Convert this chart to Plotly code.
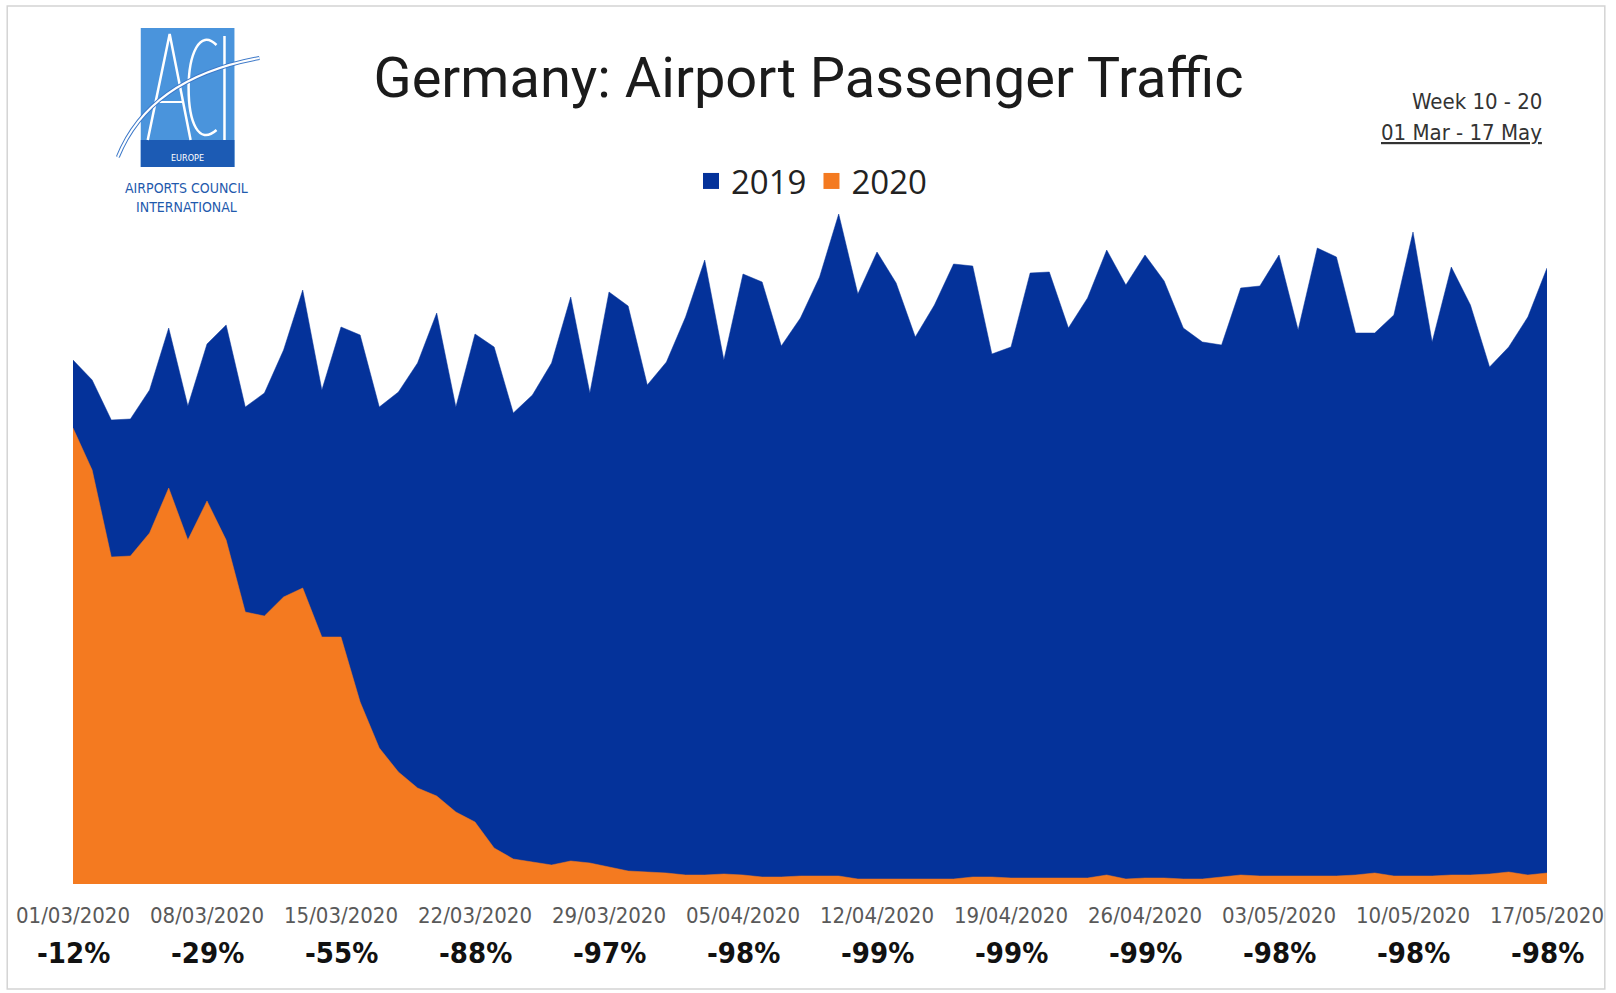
import plotly.graph_objects as go
import pandas as pd

# ---------------- data ----------------
start_date = "2020-03-01"
end_date = "2020-05-17"
dates = pd.date_range(start_date, end_date, freq="D")

# daily passengers (thousands)
pax_2019 = [524, 504, 464, 465, 494, 556, 478, 540, 559, 477,
            491, 534, 594, 494, 557, 549, 477, 492, 521, 571,
            477, 550, 537, 471, 489, 521, 587, 491, 592, 578,
            499, 522, 567, 624, 524, 610, 602, 538, 566, 607,
            670, 590, 632, 601, 547, 579, 620, 618, 530, 537,
            611, 612, 556, 586, 634, 599, 629, 603, 556, 542,
            539, 596, 598, 629, 554, 636, 627, 551, 551, 569,
            652, 542, 617, 579, 517, 537, 567, 616]

pax_2020 = [456, 414, 327, 328, 351, 396, 344, 383, 344, 272,
            268, 287, 296, 247, 247, 182, 136, 112, 96, 88,
            72, 62, 36, 25, 22, 19, 23, 21, 17, 13,
            12, 11, 9, 9, 10, 9, 7, 7, 8, 8,
            8, 5, 5, 5, 5, 5, 5, 7, 7, 6,
            6, 6, 6, 6, 9, 5, 6, 6, 5, 5,
            7, 9, 8, 8, 8, 8, 8, 9, 11, 8,
            8, 8, 9, 9, 10, 12, 9, 11]

tick_dates = ["2020-03-01", "2020-03-08", "2020-03-15", "2020-03-22",
              "2020-03-29", "2020-04-05", "2020-04-12", "2020-04-19",
              "2020-04-26", "2020-05-03", "2020-05-10", "2020-05-17"]
tick_labels = ["01/03/2020", "08/03/2020", "15/03/2020", "22/03/2020",
               "29/03/2020", "05/04/2020", "12/04/2020", "19/04/2020",
               "26/04/2020", "03/05/2020", "10/05/2020", "17/05/2020"]
week_change = ["-12%", "-29%", "-55%", "-88%", "-97%", "-98%",
               "-99%", "-99%", "-99%", "-98%", "-98%", "-98%"]

series_names = ["2019", "2020"]
title_text = "Germany: Airport Passenger Traffic"
period_week = "Week 10 - 20"
period_dates = "01 Mar - 17 May"

# ---------------- style ----------------
BLUE = "#04329a"
ORANGE = "#f47a20"
W, H = 1616, 993
L, R, T, B = 73, 1552, 200, 884
Y_MAX = 684

NARROW = "Liberation Sans Narrow, DejaVu Sans Condensed, Open Sans, sans-serif"


def px(xp):
    return (xp - L) / (R - L)


def py(yp):
    return (B - yp) / (B - T)


fig = go.Figure()
fig.add_trace(go.Scatter(x=dates, y=pax_2019, name=series_names[0], mode="lines",
                         fill="tozeroy", fillcolor=BLUE,
                         line=dict(color=BLUE, width=0.5), showlegend=False))
fig.add_trace(go.Scatter(x=dates, y=pax_2020, name=series_names[1], mode="lines",
                         fill="tozeroy", fillcolor=ORANGE,
                         line=dict(color=ORANGE, width=0.5), showlegend=False))
# legend entries
for nm, col in zip(series_names, [BLUE, ORANGE]):
    fig.add_trace(go.Scatter(x=[None], y=[None], mode="markers", name=nm,
                             marker=dict(symbol="square", size=24, color=col)))

annotations = []
for td, wc in zip(tick_dates, week_change):
    annotations.append(dict(x=td, xref="x", y=py(953), yref="paper",
                            text="<b>" + wc + "</b>", showarrow=False,
                            xanchor="center", yanchor="middle",
                            font=dict(family=NARROW, size=29, color="#111111")))

annotations.append(dict(x=px(1549), xref="paper", y=py(102), yref="paper",
                        text=period_week, showarrow=False, xanchor="right",
                        yanchor="middle",
                        font=dict(family=NARROW, size=22, color="#333333")))
annotations.append(dict(x=px(1549), xref="paper", y=py(132), yref="paper",
                        text="<u>" + period_dates + "</u>", showarrow=False,
                        xanchor="right", yanchor="middle",
                        font=dict(family=NARROW, size=22, color="#333333")))

# ---- logo (decoration) ----
LOGO_BLUE = "#1f5aad"
annotations.append(dict(x=px(188), xref="paper", y=py(158), yref="paper",
                        text="EUROPE", showarrow=False, xanchor="center",
                        yanchor="middle",
                        font=dict(family=NARROW, size=9, color="white")))
annotations.append(dict(x=px(187), xref="paper", y=py(188), yref="paper",
                        text="AIRPORTS COUNCIL", showarrow=False, xanchor="center",
                        yanchor="middle",
                        font=dict(family=NARROW, size=14, color=LOGO_BLUE)))
annotations.append(dict(x=px(187), xref="paper", y=py(207), yref="paper",
                        text="INTERNATIONAL", showarrow=False, xanchor="center",
                        yanchor="middle",
                        font=dict(family=NARROW, size=14, color=LOGO_BLUE)))


def pth(points_cmd):
    out = []
    for tok in points_cmd:
        if isinstance(tok, str):
            out.append(tok)
        else:
            out.append("%.5f,%.5f" % (px(tok[0]), py(tok[1])))
    return " ".join(out)


shapes = [
    # frame
    dict(type="rect", xref="paper", yref="paper", x0=px(7), x1=px(1610),
         y0=py(989), y1=py(6), line=dict(color="#d4d4d4", width=1.5),
         fillcolor="rgba(0,0,0,0)", layer="below"),
    # logo box
    dict(type="rect", xref="paper", yref="paper", x0=px(141), x1=px(235),
         y0=py(167), y1=py(28), line=dict(width=0), fillcolor="#4a94dc"),
    dict(type="rect", xref="paper", yref="paper", x0=px(141), x1=px(235),
         y0=py(167), y1=py(140), line=dict(width=0), fillcolor="#1c5bb4"),
    # A
    dict(type="path", xref="paper", yref="paper",
         path=pth(["M", (148, 140), "L", (170, 34), "L", (191, 140)]),
         line=dict(color="white", width=2.5)),
    dict(type="path", xref="paper", yref="paper",
         path=pth(["M", (157, 102), "L", (183, 102)]),
         line=dict(color="white", width=2)),
    # C
    dict(type="path", xref="paper", yref="paper",
         path=pth(["M", (217, 45), "C", (200, 28), (189, 55), (189, 88),
                   "C", (189, 122), (199, 146), (217, 130)]),
         line=dict(color="white", width=2.5)),
    # I
    dict(type="path", xref="paper", yref="paper",
         path=pth(["M", (225, 36), "L", (225, 140)]),
         line=dict(color="white", width=2.5)),
    # swoosh
    dict(type="path", xref="paper", yref="paper",
         path=pth(["M", (118, 157), "Q", (150, 78), (260, 58)]),
         line=dict(color="#3c78c8", width=4)),
    dict(type="path", xref="paper", yref="paper",
         path=pth(["M", (118, 157), "Q", (150, 78), (260, 58)]),
         line=dict(color="white", width=2)),
]

fig.update_layout(
    width=W, height=H,
    margin=dict(l=L, r=W - R, t=T, b=H - B),
    paper_bgcolor="white", plot_bgcolor="white",
    title=dict(text=title_text, x=px(811), xref="paper", xanchor="center",
               y=1 - 77 / H, yref="container", yanchor="middle",
               font=dict(family="Roboto, sans-serif", size=56, color="#1b1b1b")),
    legend=dict(orientation="h", x=px(814), xanchor="center", y=py(181),
                yanchor="middle", font=dict(family="Open Sans, sans-serif",
                                            size=33, color="#222222"),
                itemsizing="trace", itemwidth=30, bgcolor="rgba(0,0,0,0)"),
    xaxis=dict(type="date", range=[dates[0], dates[-1]],
               tickvals=tick_dates, ticktext=tick_labels,
               showgrid=False, zeroline=False, showline=False, ticks="",
               ticklabelstandoff=16,
               tickfont=dict(family=NARROW, size=22, color="#595959")),
    yaxis=dict(range=[0, Y_MAX], visible=False, showgrid=False, zeroline=False),
    annotations=annotations,
    shapes=shapes,
    showlegend=True,
)

fig.write_html("out.html")
